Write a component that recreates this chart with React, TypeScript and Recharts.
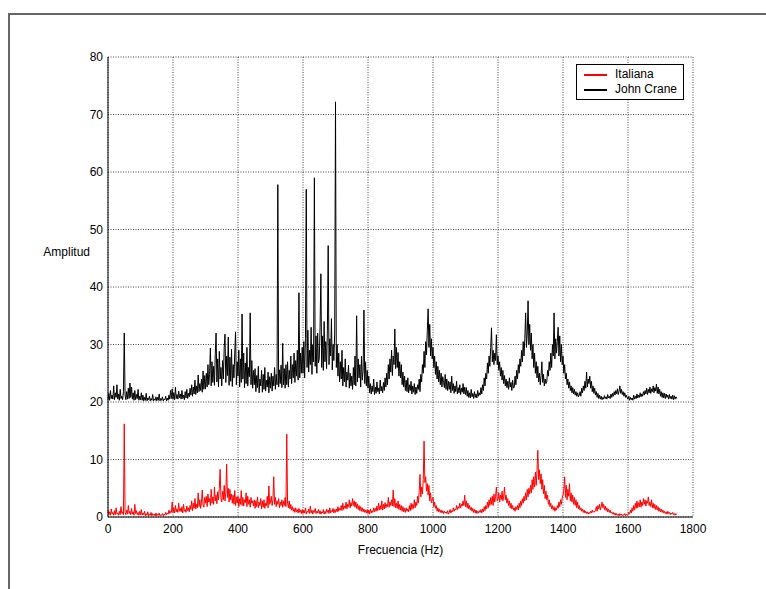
import { LineChart, Line, XAxis, YAxis, CartesianGrid, Legend } from 'recharts';

// spectra sampled every 2.5 Hz, 0 .. 1750 Hz (one 50 Hz block per two lines)
const FREQ_STEP = 2.5;

// Italiana pump amplitude
const italiana = [
  1.2, 0.4, 0.9, 0.3, 1.4, 0.5, 0.8, 0.3, 1.1, 0.4,
  1.6, 0.5, 0.7, 0.3, 1.0, 0.4, 1.8, 0.6, 0.9, 0.4,
  16.2, 0.8, 0.4, 1.2, 0.5, 2.0, 0.6, 1.0, 0.4, 1.5,
  0.5, 0.9, 0.3, 2.2, 0.6, 1.1, 0.4, 0.8, 0.3, 1.0,
  0.4, 1.3, 0.3, 0.7, 0.4, 1.0, 0.2, 0.6, 0.3, 0.9,
  0.2, 0.5, 0.3, 0.8, 0.2, 0.6, 0.3, 0.5, 0.2, 0.7,
  0.2, 0.5, 0.3, 0.7, 0.2, 0.4, 0.3, 0.6, 0.2, 0.5,
  0.3, 0.8, 0.4, 0.7, 0.5, 1.2, 0.6, 1.0, 0.8, 2.6,
  0.8, 1.6, 0.7, 2.0, 0.9, 1.4, 0.8, 2.4, 1.0, 1.5,
  0.9, 1.8, 0.7, 2.2, 1.0, 1.3, 0.8, 1.9, 1.1, 1.6,
  0.9, 2.0, 1.3, 2.8, 1.1, 2.4, 1.5, 3.2, 1.4, 2.2,
  1.6, 4.2, 1.8, 3.0, 1.5, 2.6, 4.7, 2.0, 1.7, 3.4,
  2.4, 3.6, 1.8, 4.0, 2.6, 3.2, 2.0, 4.8, 2.4, 3.5,
  2.2, 5.2, 2.8, 3.8, 2.3, 4.4, 3.0, 5.0, 8.3, 3.2,
  2.6, 4.5, 3.0, 5.5, 2.8, 4.2, 9.2, 3.4, 5.0, 2.6,
  4.8, 3.0, 4.0, 2.4, 3.8, 2.2, 4.6, 2.0, 3.5, 2.4,
  3.6, 1.8, 3.2, 2.2, 4.6, 2.0, 3.4, 1.9, 3.0, 2.5,
  4.2, 1.8, 3.6, 2.2, 3.0, 1.7, 3.4, 2.4, 2.8, 1.9,
  3.0, 1.5, 2.8, 1.8, 3.5, 1.6, 2.6, 2.0, 3.2, 1.4,
  2.8, 1.7, 3.0, 1.5, 2.4, 2.0, 3.6, 1.6, 5.4, 2.2,
  2.6, 3.6, 2.0, 3.0, 7.0, 2.2, 3.4, 1.8, 2.8, 2.2,
  3.2, 1.6, 2.6, 2.0, 3.0, 1.7, 2.8, 2.0, 3.4, 1.8,
  14.4, 2.4, 1.6, 2.8, 1.4, 2.2, 1.2, 1.8, 1.0, 1.5,
  0.8, 1.6, 0.9, 1.3, 0.7, 1.5, 0.8, 1.2, 0.6, 1.3,
  0.6, 1.2, 0.7, 1.6, 0.5, 1.0, 0.8, 1.4, 0.6, 1.9,
  0.7, 1.2, 0.5, 1.1, 0.8, 1.5, 0.6, 1.0, 0.7, 1.3,
  0.6, 1.1, 0.5, 0.9, 0.7, 1.3, 0.5, 1.0, 0.6, 1.4,
  0.8, 1.2, 0.6, 1.6, 0.7, 1.1, 0.9, 1.5, 0.7, 1.3,
  0.8, 1.4, 0.9, 1.8, 1.0, 1.5, 1.2, 2.0, 1.1, 2.4,
  1.3, 1.9, 1.5, 2.6, 1.4, 2.2, 1.8, 3.0, 1.6, 2.5,
  1.9, 3.2, 2.0, 2.8, 1.7, 2.6, 1.5, 2.3, 1.3, 2.0,
  1.1, 1.8, 1.0, 1.6, 0.9, 1.4, 0.8, 1.2, 0.7, 1.3,
  0.6, 1.2, 0.5, 1.4, 0.7, 1.1, 0.8, 1.6, 0.9, 1.5,
  1.0, 1.9, 1.1, 2.4, 1.2, 2.0, 1.3, 2.8, 1.2, 2.2,
  1.4, 2.5, 1.6, 2.2, 1.8, 3.4, 1.7, 2.6, 2.0, 3.0,
  1.9, 4.7, 1.8, 3.2, 1.6, 2.4, 1.5, 2.8, 1.3, 2.2,
  1.2, 2.0, 1.0, 1.8, 0.9, 1.5, 0.8, 1.6, 1.0, 1.4,
  0.9, 2.0, 1.1, 2.4, 1.3, 2.2, 1.5, 3.0, 1.6, 2.6,
  2.0, 3.6, 2.4, 4.5, 7.4, 3.5, 5.2, 4.0, 6.5, 13.2,
  6.0, 7.0, 4.5, 5.8, 3.8, 5.5, 2.8, 4.2, 2.5, 3.0,
  3.4, 1.8, 2.6, 1.5, 2.0, 1.0, 1.6, 0.9, 1.4, 0.8,
  1.2, 0.7, 1.1, 0.6, 1.0, 0.7, 0.9, 0.6, 1.1, 0.5,
  0.8, 1.3, 0.7, 1.1, 0.9, 1.6, 1.0, 1.4, 1.2, 2.0,
  1.3, 1.8, 1.5, 2.4, 1.6, 2.2, 1.9, 2.8, 2.0, 3.8,
  1.8, 2.8, 1.6, 2.4, 1.4, 2.0, 1.2, 1.7, 1.0, 1.5,
  0.8, 1.3, 0.7, 1.2, 0.6, 1.0, 0.7, 1.1, 0.8, 1.3,
  0.7, 1.4, 0.9, 1.8, 1.1, 2.0, 1.4, 2.6, 1.6, 3.0,
  2.0, 3.4, 2.2, 3.6, 2.0, 4.0, 2.6, 3.6, 5.2, 2.8,
  3.2, 4.2, 2.6, 3.8, 3.0, 4.5, 2.8, 3.6, 5.2, 3.0,
  3.8, 2.4, 3.2, 2.0, 2.8, 1.6, 2.4, 1.4, 2.0, 1.2,
  1.6, 1.0, 1.8, 1.3, 2.0, 1.2, 2.4, 1.6, 2.8, 2.0,
  3.2, 2.4, 3.6, 2.8, 4.2, 3.0, 4.8, 3.5, 5.0, 4.0,
  5.5, 4.2, 6.5, 4.8, 7.0, 5.2, 7.8, 5.5, 8.0, 11.6,
  6.5, 8.2, 5.8, 7.5, 4.8, 6.5, 4.0, 5.5, 3.2, 4.5,
  3.0, 3.8, 2.2, 3.0, 1.8, 2.4, 1.4, 2.0, 1.2, 1.8,
  1.0, 1.6, 1.2, 2.0, 1.5, 2.6, 1.8, 3.0, 2.2, 3.4,
  3.8, 4.6, 7.0, 3.4, 5.5, 3.0, 4.8, 3.6, 5.8, 2.8,
  4.2, 2.6, 3.8, 2.2, 3.4, 2.0, 3.0, 1.6, 2.6, 1.4,
  2.0, 1.2, 1.6, 1.0, 1.4, 0.8, 1.2, 0.7, 1.0, 0.6,
  0.9, 0.5, 0.8, 0.6, 1.0, 0.7, 1.2, 0.8, 1.0, 0.9,
  1.2, 1.8, 1.0, 2.0, 1.4, 2.2, 1.2, 1.8, 2.6, 1.6,
  2.2, 1.3, 1.9, 1.1, 1.6, 0.9, 1.4, 0.8, 1.2, 0.7,
  0.9, 0.5, 0.8, 0.4, 0.7, 0.3, 0.6, 0.3, 0.5, 0.2,
  0.6, 0.3, 0.5, 0.2, 0.4, 0.3, 0.6, 0.2, 0.5, 0.3,
  0.4, 0.8, 0.5, 1.2, 0.7, 1.6, 1.0, 2.0, 1.2, 2.4,
  1.5, 2.8, 1.6, 2.5, 1.8, 3.0, 1.7, 2.6, 2.0, 3.2,
  2.2, 3.0, 1.9, 2.8, 2.4, 3.5, 2.0, 2.6, 1.8, 3.0,
  1.6, 2.4, 1.5, 2.2, 1.3, 2.0, 1.2, 1.8, 1.0, 1.5,
  0.9, 1.4, 0.8, 1.2, 0.7, 1.0, 0.6, 0.9, 0.5, 1.0,
  0.6, 0.8, 0.4, 0.7, 0.5, 0.8, 0.4, 0.6, 0.3, 0.6,
  0.4,
];

// John Crane pump amplitude, plotted with a +20 offset
const johnCrane = [
  20.4, 21.5, 20.3, 22.0, 20.6, 21.2, 20.5, 22.8, 20.4, 21.6,
  20.8, 23.0, 20.5, 21.4, 20.3, 22.2, 20.6, 21.0, 20.4, 21.8,
  32.0, 21.2, 20.4, 21.8, 20.5, 22.4, 20.6, 23.3, 20.8, 22.6,
  20.5, 21.6, 20.3, 22.0, 20.4, 21.3, 20.6, 22.2, 20.3, 21.0,
  20.4, 21.6, 20.3, 21.2, 20.2, 20.8, 20.3, 21.5, 20.2, 20.7,
  20.4, 21.0, 20.2, 20.6, 20.3, 21.3, 20.2, 20.5, 20.3, 20.9,
  20.2, 20.8, 20.3, 21.4, 20.2, 20.6, 20.3, 20.9, 20.2, 20.5,
  20.4, 21.0, 20.2, 20.7, 20.3, 21.2, 20.5, 22.0, 20.6, 22.3,
  20.5, 21.6, 20.4, 22.6, 20.6, 21.3, 20.5, 21.9, 20.7, 21.4,
  20.5, 22.0, 20.6, 21.2, 20.4, 21.8, 20.7, 22.2, 20.6, 21.5,
  20.9, 22.4, 21.2, 23.0, 21.0, 22.6, 21.4, 23.8, 21.3, 22.8,
  21.6, 24.7, 21.8, 23.2, 22.0, 24.0, 21.7, 25.4, 22.2, 24.6,
  22.3, 25.0, 22.6, 26.5, 23.0, 24.8, 29.4, 22.8, 27.0, 23.4,
  26.2, 22.9, 28.2, 32.0, 23.5, 27.5, 22.6, 28.8, 24.0, 26.0,
  22.8, 27.2, 24.0, 29.5, 31.8, 23.4, 28.0, 24.6, 31.3, 22.9,
  27.8, 23.6, 29.2, 22.7, 26.5, 24.2, 28.5, 32.2, 23.0, 27.0,
  24.5, 29.0, 22.6, 27.5, 23.4, 35.3, 24.0, 28.5, 22.5, 26.8,
  23.2, 29.5, 22.8, 26.0, 24.4, 35.5, 23.0, 27.2, 22.4, 25.5,
  23.0, 25.8, 21.8, 24.6, 22.5, 26.2, 21.6, 24.0, 22.8, 25.5,
  21.7, 24.8, 22.2, 26.0, 21.9, 23.8, 22.6, 25.2, 21.6, 24.4,
  22.4, 25.0, 21.9, 24.5, 22.8, 26.0, 22.2, 24.8, 23.0, 57.8,
  22.6, 25.6, 23.2, 26.4, 22.5, 30.2, 23.0, 25.8, 22.4, 26.5,
  23.0, 27.0, 22.6, 25.5, 24.0, 28.0, 23.2, 26.5, 24.2, 28.5,
  23.4, 27.2, 24.5, 29.0, 23.8, 39.0, 24.2, 28.5, 25.0, 29.5,
  25.0, 30.5, 24.2, 31.0, 57.0, 26.0, 32.5, 25.2, 29.0, 26.5,
  33.0, 24.8, 30.0, 27.0, 59.0, 26.2, 31.5, 25.0, 32.0, 26.8,
  27.5, 33.0, 42.3, 26.0, 31.5, 25.5, 34.0, 27.0, 30.5, 25.8,
  32.5, 47.2, 26.5, 31.0, 28.0, 34.5, 25.6, 30.0, 27.2, 32.0,
  72.2, 26.0, 30.0, 24.5, 28.5, 23.5, 27.0, 24.0, 29.0, 22.8,
  26.0, 23.5, 27.5, 22.6, 25.2, 23.8, 26.4, 22.4, 25.0, 22.8,
  24.5, 22.2, 26.0, 23.0, 28.0, 22.8, 35.0, 23.5, 27.5, 24.2,
  26.5, 22.6, 28.0, 23.8, 25.5, 36.0, 23.2, 27.0, 22.8, 25.5,
  22.4, 24.5, 21.6, 23.2, 21.4, 22.8, 21.8, 24.0, 21.3, 22.6,
  21.5, 23.5, 21.8, 22.4, 21.4, 23.8, 21.9, 22.7, 21.6, 23.4,
  22.0, 24.2, 22.6, 25.0, 23.0, 26.5, 24.0, 27.5, 25.2, 29.0,
  24.6, 28.0, 26.5, 32.7, 25.8, 29.5, 26.0, 28.6, 24.5, 27.0,
  24.2, 26.5, 23.0, 25.2, 22.6, 24.5, 22.0, 23.8, 21.8, 24.2,
  21.6, 23.0, 22.0, 23.6, 21.4, 22.8, 21.7, 23.2, 21.3, 22.6,
  21.5, 23.0, 22.2, 24.0, 21.8, 24.8, 23.5, 26.5, 25.0, 28.8,
  26.0, 30.5, 28.2, 32.5, 36.2, 29.5, 33.5, 28.0, 31.0, 27.5,
  29.5, 26.0, 28.0, 24.8, 27.0, 24.0, 26.2, 23.5, 25.5, 23.0,
  25.0, 22.6, 24.4, 23.4, 22.5, 24.8, 22.2, 24.0, 22.0, 23.6,
  22.2, 23.5, 21.6, 24.5, 22.0, 23.2, 21.5, 22.8, 21.8, 23.6,
  21.4, 22.5, 21.6, 23.0, 21.3, 22.4, 21.7, 23.2, 21.4, 22.6,
  21.3, 22.5, 21.0, 22.0, 20.8, 21.6, 20.7, 22.2, 20.9, 21.5,
  20.6, 21.8, 20.8, 21.4, 20.7, 22.0, 21.0, 21.6, 21.2, 22.5,
  21.4, 23.0, 22.0, 24.2, 22.8, 25.0, 24.0, 26.8, 25.0, 28.0,
  26.2, 29.5, 32.9, 27.0, 29.0, 26.5, 28.5, 27.2, 31.7, 26.5,
  28.0, 25.5, 27.0, 24.5, 26.0, 23.8, 25.5, 23.2, 24.6, 22.8,
  24.0, 22.5, 23.6, 22.2, 24.2, 22.6, 23.4, 22.0, 23.8, 22.4,
  22.6, 24.5, 23.0, 25.5, 24.0, 26.5, 25.0, 27.5, 26.2, 29.0,
  27.0, 30.5, 28.0, 31.0, 35.5, 29.5, 32.0, 37.6, 30.0, 33.5,
  29.0, 32.0, 27.5, 30.0, 26.0, 28.5, 25.0, 27.0, 24.2, 26.2,
  23.5, 25.0, 23.0, 24.6, 27.0, 23.4, 24.8, 22.8, 24.0, 23.2,
  23.5, 25.5, 24.5, 27.0, 25.5, 28.5, 26.0, 30.0, 28.0, 35.5,
  27.5, 31.0, 28.5, 30.5, 33.0, 28.0, 31.5, 27.0, 30.0, 26.5,
  28.0, 25.0, 26.5, 24.0, 25.0, 23.0, 24.0, 22.4, 23.5, 22.0,
  22.8, 21.6, 22.5, 21.4, 22.2, 21.2, 21.8, 21.0, 21.6, 20.9,
  21.2, 21.8, 21.0, 22.4, 21.6, 22.8, 22.0, 23.6, 22.4, 25.2,
  22.6, 24.0, 23.2, 24.5, 22.4, 23.6, 21.8, 22.8, 21.5, 22.4,
  21.2, 21.8, 20.8, 21.5, 20.6, 21.2, 20.5, 21.0, 20.4, 20.8,
  20.5, 21.1, 20.6, 20.9, 20.5, 21.3, 20.7, 21.0, 20.6, 21.4,
  20.8, 21.5, 21.0, 21.8, 21.2, 22.0, 21.4, 22.3, 21.3, 21.9,
  22.8, 21.5, 22.2, 21.3, 21.8, 21.0, 21.6, 20.8, 21.2, 20.7,
  20.5, 21.0, 20.3, 20.8, 20.4, 20.7, 20.3, 21.2, 20.5, 21.0,
  20.6, 21.4, 20.7, 21.2, 20.8, 21.6, 20.9, 21.4, 21.0, 21.8,
  21.2, 22.0, 21.4, 22.4, 21.3, 22.2, 21.6, 22.6, 21.5, 22.3,
  21.8, 22.8, 21.6, 22.5, 21.9, 23.1, 21.5, 22.6, 21.4, 22.2,
  21.0, 21.8, 20.8, 21.6, 20.7, 21.5, 20.6, 21.4, 20.8, 21.2,
  20.5, 21.3, 20.6, 21.0, 20.5, 21.2, 20.4, 21.1, 20.5, 20.9,
  20.6,
];

const xTicks = [0, 200, 400, 600, 800, 1000, 1200, 1400, 1600, 1800];
const yTicks = [0, 10, 20, 30, 40, 50, 60, 70, 80];

const data = italiana.map((v, i) => ({
  freq: i * FREQ_STEP,
  italiana: v,
  johnCrane: johnCrane[i],
}));

const FONT = '"Liberation Sans", Arial, Helvetica, sans-serif';
const tickStyle = { fontSize: 12, fill: '#000', fontFamily: FONT };

function LegendBox({ payload }: any) {
  return (
    <div
      style={{
        border: '1px solid #000',
        background: '#fff',
        padding: '2px 6px 2px 7px',
        fontFamily: FONT,
        fontSize: 12,
        lineHeight: '15px',
        color: '#000',
      }}
    >
      {(payload ?? []).map((p: any) => (
        <div key={p.value} style={{ display: 'flex', alignItems: 'center' }}>
          <span style={{ display: 'inline-block', width: 23, height: 2, background: p.color, marginRight: 8 }} />
          {p.value}
        </div>
      ))}
    </div>
  );
}

export default function App() {
  return (
    <div style={{ position: 'absolute', left: 0, top: 0, width: 766, height: 589, background: '#fff', overflow: 'hidden' }}>
      {/* figure frame */}
      <div style={{ position: 'absolute', left: 8, top: 13, right: -10, bottom: -10, borderLeft: '2px solid #666', borderTop: '2px solid #666' }} />
      <LineChart
        width={766}
        height={589}
        data={data}
        margin={{ top: 57, right: 73, bottom: 32, left: 68 }}
        style={{ position: 'absolute', left: 0, top: 0 }}
      >
        <CartesianGrid stroke="#444" strokeDasharray="1 1.5" />
        <XAxis
          dataKey="freq"
          type="number"
          domain={[0, 1800]}
          ticks={xTicks}
          tick={tickStyle}
          tickLine={false}
          tickSize={0}
          tickMargin={7}
          axisLine={{ stroke: '#000' }}
          height={40}
          label={{ value: 'Frecuencia (Hz)', position: 'insideBottom', offset: 3, style: { fontSize: 12, fill: '#000', fontFamily: FONT } }}
        />
        <XAxis
          xAxisId="top"
          orientation="top"
          dataKey="freq"
          type="number"
          domain={[0, 1800]}
          ticks={xTicks}
          tick={false}
          tickLine={false}
          axisLine={{ stroke: '#000' }}
          height={0}
          label={{
            content: () => (
              <text x={381} y={50} textAnchor="middle" fontSize={18} fontFamily={FONT} fill="#000">
                Bombas Silenciosas
              </text>
            ),
          }}
        />
        <YAxis
          type="number"
          domain={[0, 80]}
          ticks={yTicks}
          tick={tickStyle}
          tickLine={false}
          tickSize={0}
          tickMargin={5}
          axisLine={{ stroke: '#000' }}
          width={40}
          label={{
            content: () => (
              <text x={90} y={256} textAnchor="end" fontSize={12} fontFamily={FONT} fill="#000">
                Amplitud
              </text>
            ),
          }}
        />
        <YAxis
          yAxisId="right"
          orientation="right"
          type="number"
          domain={[0, 80]}
          ticks={yTicks}
          tick={false}
          tickLine={false}
          axisLine={{ stroke: '#000' }}
          width={0}
        />
        <Legend
          layout="vertical"
          align="center"
          verticalAlign="middle"
          content={<LegendBox />}
          wrapperStyle={{ left: 576, top: 64, width: 'auto', height: 'auto' }}
        />
        <Line
          dataKey="italiana"
          name="Italiana"
          stroke="#ff0000"
          strokeWidth={1}
          dot={false}
          activeDot={false}
          isAnimationActive={false}
        />
        <Line
          dataKey="johnCrane"
          name="John Crane"
          stroke="#000"
          strokeWidth={1}
          dot={false}
          activeDot={false}
          isAnimationActive={false}
        />
      </LineChart>
    </div>
  );
}
